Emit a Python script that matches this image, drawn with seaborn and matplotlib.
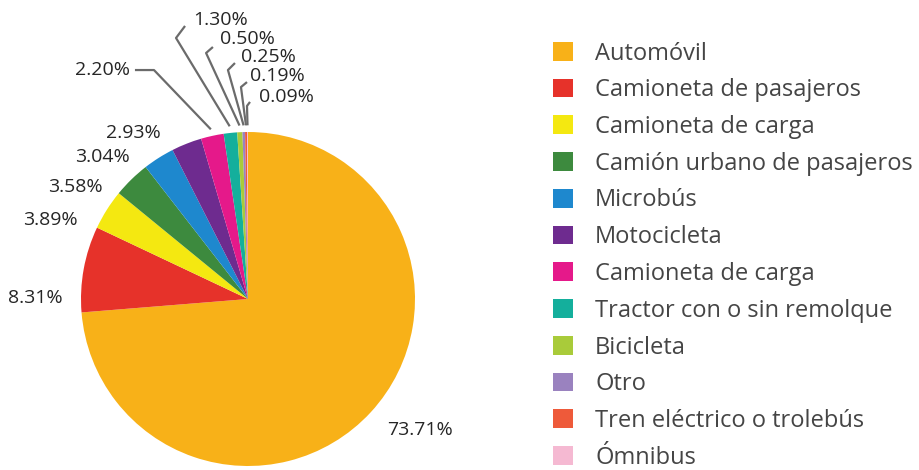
import numpy as np
import matplotlib.pyplot as plt
import seaborn as sns
from matplotlib.patches import Patch

# Data
categories = ["Automóvil", "Camioneta de pasajeros", "Camioneta de carga",
              "Camión urbano de pasajeros", "Microbús", "Motocicleta",
              "Camioneta de carga", "Tractor con o sin remolque", "Bicicleta",
              "Otro", "Tren eléctrico o trolebús", "Ómnibus"]
shares = [73.71, 8.31, 3.89, 3.58, 3.04, 2.93, 2.20, 1.30, 0.50, 0.25, 0.19, 0.09]
colors = ["#F8B118", "#E6322A", "#F4E811", "#3D8A3E", "#1E88CE", "#6E2B8F",
          "#E5198A", "#14AF9C", "#A9CB3A", "#9A82BF", "#EE5A3A", "#F5B9D2"]

# label layout (pie radius = 1)
plain_pos = {0: (1.03, -0.784), 1: (-1.275, 0.006), 2: (-1.186, 0.473),
             3: (-1.036, 0.671), 4: (-0.874, 0.850), 5: (-0.689, 0.994)}
# text position, text alignment, leader points (text side -> elbow)
leader_pos = {
    6: ((-0.707, 1.371), "right", [(-0.677, 1.371), (-0.563, 1.371)]),
    7: ((-0.329, 1.671), "left", [(-0.377, 1.635), (-0.431, 1.563)]),
    8: ((-0.168, 1.557), "left", [(-0.210, 1.509), (-0.251, 1.473)]),
    9: ((-0.042, 1.449), "left", [(-0.078, 1.413), (-0.120, 1.371)]),
    10: ((0.012, 1.335), "left", [(-0.006, 1.299), (-0.042, 1.269)]),
    11: ((0.066, 1.210), "left", [(0.012, 1.180), (-0.006, 1.156)]),
}

sns.set_theme(style="white")
plt.rcParams['font.family'] = ['Open Sans', 'DejaVu Sans']

W, H = 919, 470
fig = plt.figure(figsize=(W / 100, H / 100), dpi=100)
ax = fig.add_axes([81 / W, 4 / H, 334 / W, 334 / H])

palette = sns.color_palette(colors)
wedges, _ = ax.pie(shares, colors=palette, startangle=90, counterclock=False,
                   radius=1, wedgeprops=dict(linewidth=0))
ax.set_xlim(-1, 1)
ax.set_ylim(-1, 1)
ax.set_aspect('equal')
ax.axis('off')

num_color = "#262626"
num_size = 14

for i, (x, y) in plain_pos.items():
    ax.text(x, y, f"{shares[i]:.2f}%", ha="center", va="center",
            fontsize=num_size, color=num_color)

for i, (txy, ha, pts) in leader_pos.items():
    w = wedges[i]
    mid = np.deg2rad((w.theta1 + w.theta2) / 2)
    edge = (1.04 * np.cos(mid), 1.04 * np.sin(mid))
    xs = [p[0] for p in pts] + [edge[0]]
    ys = [p[1] for p in pts] + [edge[1]]
    ax.plot(xs, ys, color="#6b6b6b", lw=1.6, clip_on=False,
            solid_capstyle="butt")
    ax.text(txy[0], txy[1], f"{shares[i]:.2f}%", ha=ha, va="center",
            fontsize=num_size, color=num_color)

handles = [Patch(facecolor=c, edgecolor="none") for c in palette]
fs = 17
leg = fig.legend(handles, categories, loc="upper left",
                 bbox_to_anchor=(553 / W, (H - 41.5) / H),
                 frameon=False, fontsize=fs, borderpad=0, borderaxespad=0,
                 handlelength=0.85, handleheight=0.85, handletextpad=0.93,
                 labelspacing=0.54, labelcolor="#454545")

fig.savefig("out.png", dpi=100)
